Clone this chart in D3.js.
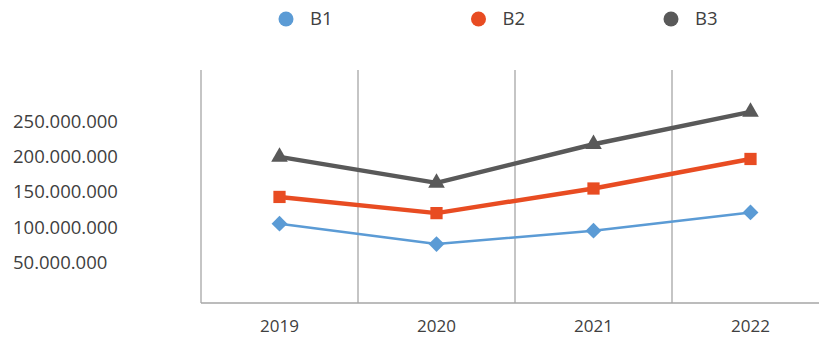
<!DOCTYPE html>
<html><head><meta charset="utf-8">
<script src="https://cdn.jsdelivr.net/npm/d3@7"></script>
<style>body{margin:0;background:#fff}svg{display:block}</style>
</head><body>
<svg id="c" width="819" height="337"></svg>
<script>
const categories = ["2019","2020","2021","2022"];
const seriesNames = ["B1","B2","B3"];
const b1 = [105000000, 76000000, 95000000, 121000000];
const b2 = [143000000, 120000000, 155000000, 197000000];
const b3 = [200000000, 163000000, 218000000, 264000000];
const yTicks = [50000000, 100000000, 150000000, 200000000, 250000000];

const colors = ["#5B9BD5", "#E84C22", "#595959"];
const widths = [2.5, 4.5, 4.5];
const shapes = [d3.symbolDiamond2, d3.symbolSquare, d3.symbolTriangle];
const sizes = [160, 150, 120];
const series = [b1, b2, b3];

const svg = d3.select("#c");
const font = "'Open Sans', sans-serif";
const textColor = "#404040";

const x = d3.scaleBand().domain(categories).range([201, 829]).padding(0);
const y = d3.scaleLinear().domain([0, 250000000]).range([297.5, 121.7]);
const loc = d3.formatLocale({decimal: ",", thousands: ".", grouping: [3], currency: ["", ""]});
const fmt = loc.format(",d");

// vertical gridlines / frame
svg.append("g").selectAll("line").data(categories.map(c => x(c)))
  .join("line")
  .attr("x1", d => d).attr("x2", d => d)
  .attr("y1", 70).attr("y2", 303)
  .attr("stroke", "#a6a6a6").attr("stroke-width", 1.3);
// x axis line
svg.append("line").attr("x1", 201).attr("x2", 819).attr("y1", 303).attr("y2", 303)
  .attr("stroke", "#a6a6a6").attr("stroke-width", 1.3);

// x labels
const xAxis = d3.axisBottom(x).tickSize(0).tickPadding(0);
const gX = svg.append("g").attr("transform", "translate(0,332)").call(xAxis);
gX.select(".domain").remove();
gX.selectAll("text").attr("font-family", font).attr("font-size", 17).attr("fill", textColor)
  .attr("dy", "0");

// y labels
const yAxis = d3.axisLeft(y).tickValues(yTicks).tickFormat(fmt).tickSize(0).tickPadding(0);
const gY = svg.append("g").attr("transform", "translate(13,0)").call(yAxis);
gY.select(".domain").remove();
gY.selectAll("text").attr("font-family", font).attr("font-size", 18.5).attr("fill", textColor)
  .attr("text-anchor", "start");

// lines
const cx = c => x(c) + x.bandwidth() / 2;
series.forEach((vals, i) => {
  const line = d3.line().x((d, j) => cx(categories[j])).y(d => y(d));
  svg.append("path").datum(vals).attr("d", line).attr("fill", "none")
    .attr("stroke", colors[i]).attr("stroke-width", widths[i]).attr("stroke-linejoin", "round");
  svg.append("g").selectAll("path").data(vals).join("path")
    .attr("transform", (d, j) => `translate(${cx(categories[j])},${y(d)})`)
    .attr("d", d3.symbol().type(shapes[i]).size(sizes[i]))
    .attr("fill", colors[i]);
});

// legend
const legX = d3.scalePoint().domain(seriesNames).range([286, 671]);
const leg = svg.append("g").selectAll("g").data(seriesNames).join("g")
  .attr("transform", d => `translate(${legX(d)},19)`);
leg.append("circle").attr("r", 7.5).attr("fill", (d, i) => colors[i]);
leg.append("text").attr("x", 24).attr("y", 0).attr("dy", "0.35em")
  .attr("font-family", font).attr("font-size", 18.5).attr("fill", textColor).text(d => d);
</script>
</body></html>
